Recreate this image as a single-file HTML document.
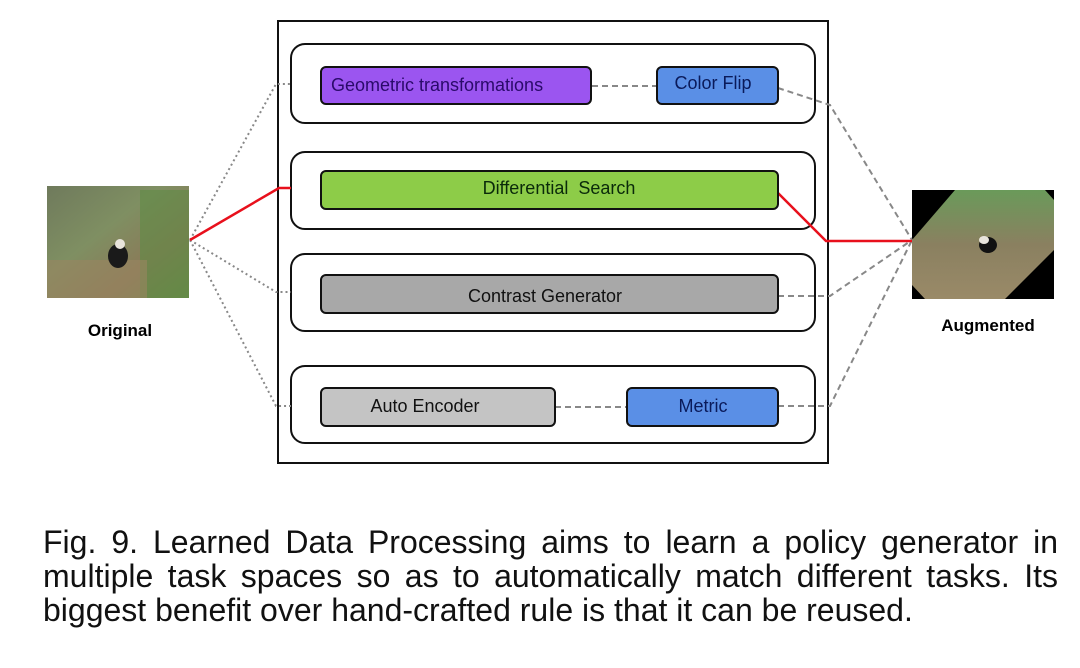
<!DOCTYPE html>
<html><head><meta charset="utf-8"><style>
html,body{margin:0;padding:0;background:#fff;}
svg{display:block;}
text{font-family:"Liberation Sans",sans-serif;}
#cap{position:absolute;left:43px;top:525px;width:1015px;font-family:"Liberation Sans",sans-serif;font-size:32px;line-height:34px;color:#111;}
#cap div{white-space:nowrap;}
#cap .j{text-align:justify;text-align-last:justify;}
</style></head><body>
<svg width="1080" height="668" viewBox="0 0 1080 668" xmlns="http://www.w3.org/2000/svg">
<defs>
<linearGradient id="g1" x1="0" y1="0" x2="1" y2="1">
<stop offset="0" stop-color="#6f7a5c"/><stop offset="0.4" stop-color="#7f8f62"/><stop offset="0.7" stop-color="#8a7a58"/><stop offset="1" stop-color="#6a8a4a"/>
</linearGradient>
<linearGradient id="g2" x1="0" y1="0" x2="0" y2="1">
<stop offset="0" stop-color="#6a9a5a"/><stop offset="0.5" stop-color="#8a8060"/><stop offset="1" stop-color="#9a8a68"/>
</linearGradient>
</defs>
<rect x="47" y="186" width="142" height="112" fill="url(#g1)"/>
<rect x="140" y="190" width="49" height="108" fill="#5f8a45" opacity="0.6"/>
<rect x="47" y="260" width="100" height="38" fill="#9a8660" opacity="0.6"/>
<ellipse cx="118" cy="256" rx="10" ry="12" fill="#1a1a1a"/>
<ellipse cx="120" cy="244" rx="5" ry="5" fill="#e8e4dc"/>
<text x="120" y="336" font-size="17" font-weight="bold" text-anchor="middle" fill="#000">Original</text>
<rect x="912" y="190" width="142" height="109" fill="#000"/>
<polygon points="912,240 955,190 1045,190 1054,200 1054,250 1005,299 925,299 912,285" fill="url(#g2)"/>
<ellipse cx="988" cy="245" rx="9" ry="8" fill="#111"/>
<ellipse cx="984" cy="240" rx="5" ry="4" fill="#e8e4dc"/>
<text x="988" y="331" font-size="17" font-weight="bold" text-anchor="middle" fill="#000">Augmented</text>
<rect x="278" y="21" width="550" height="442" fill="none" stroke="#111" stroke-width="2"/>
<g fill="#fff" stroke="#111" stroke-width="2">
<rect x="291" y="44" width="524" height="79" rx="14"/>
<rect x="291" y="152" width="524" height="77" rx="14"/>
<rect x="291" y="254" width="524" height="77" rx="14"/>
<rect x="291" y="366" width="524" height="77" rx="14"/>
</g>
<g stroke="#888" stroke-width="2" stroke-dasharray="6,4" fill="none">
<line x1="592" y1="86" x2="657" y2="86"/>
<line x1="555" y1="407" x2="627" y2="407"/>
<polyline points="778,88 830,105 912,240"/>
<polyline points="778,296 830,296 912,240"/>
<polyline points="778,406 830,406 912,240"/>
</g>
<g stroke="#888" stroke-width="2" stroke-dasharray="2,3" fill="none">
<polyline points="190,240 276,84 291,84"/>
<polyline points="190,240 276,292 291,292"/>
<polyline points="190,240 276,406 291,406"/>
</g>
<polyline points="190,240 279,188 291,188" stroke="#e8101c" stroke-width="2.5" fill="none"/>
<polyline points="778,193 826,241 912,241" stroke="#e8101c" stroke-width="2.5" fill="none"/>
<g stroke="#111" stroke-width="2">
<rect x="321" y="67" width="270" height="37" rx="5" fill="#9b55f0"/>
<rect x="657" y="67" width="121" height="37" rx="5" fill="#5a8fe6"/>
<rect x="321" y="171" width="457" height="38" rx="5" fill="#8dcc48"/>
<rect x="321" y="275" width="457" height="38" rx="5" fill="#a8a8a8"/>
<rect x="321" y="388" width="234" height="38" rx="5" fill="#c4c4c4"/>
<rect x="627" y="388" width="151" height="38" rx="5" fill="#5a8fe6"/>
</g>
<g font-size="18">
<text x="331" y="91" fill="#2a0a6a">Geometric transformations</text>
<text x="713" y="89" fill="#0a1a5a" text-anchor="middle">Color Flip</text>
<text x="559" y="194" fill="#0a2a0a" text-anchor="middle" xml:space="preserve">Differential  Search</text>
<text x="545" y="302" fill="#111" text-anchor="middle">Contrast Generator</text>
<text x="425" y="412" fill="#111" text-anchor="middle">Auto Encoder</text>
<text x="703" y="412" fill="#0a1a5a" text-anchor="middle">Metric</text>
</g>
</svg>
<div id="cap">
<div class="j">Fig. 9. Learned Data Processing aims to learn a policy generator in</div>
<div class="j">multiple task spaces so as to automatically match different tasks. Its</div>
<div>biggest benefit over hand-crafted rule is that it can be reused.</div>
</div>
</body></html>
